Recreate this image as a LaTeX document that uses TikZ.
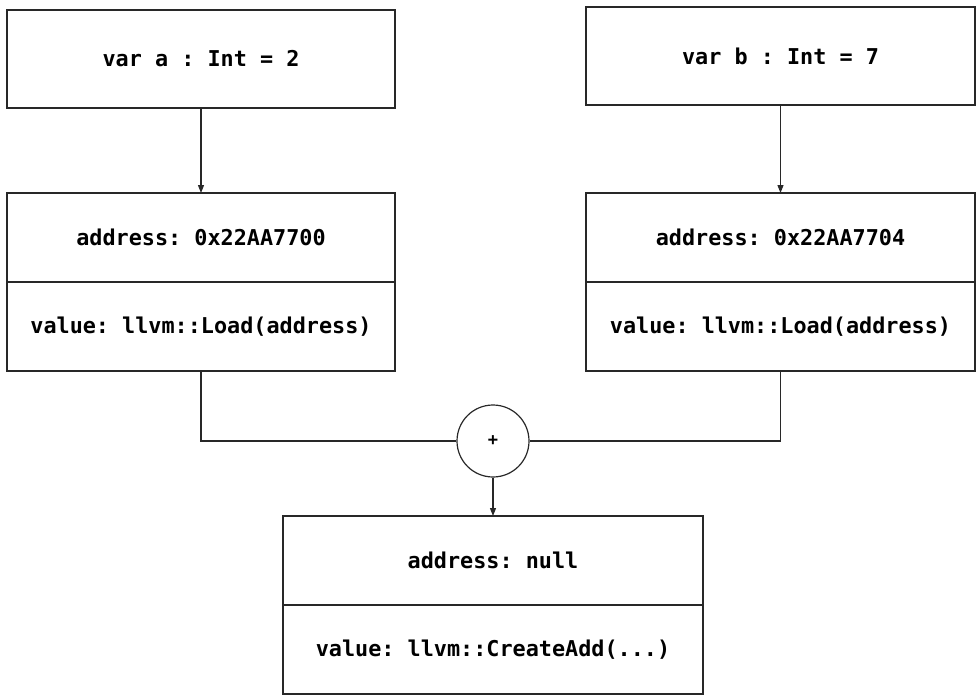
\documentclass[tikz,border=0pt]{standalone}
\usepackage{fontspec}
\setmonofont{DejaVu Sans Mono}
\usepackage{tikz}
\usetikzlibrary{arrows.meta, positioning}
\definecolor{edge}{RGB}{40,40,40}

\begin{document}
\begin{tikzpicture}[x=1pt, y=-1pt,
      box/.style={rectangle, draw=edge, line width=1.2pt, outer sep=0pt, minimum width=388pt, minimum height=89pt, font=\fontsize{21.8}{24}\selectfont\ttfamily\bfseries},
      var/.style={box, minimum height=98pt},
      op/.style={circle, draw=edge, line width=1.2pt, minimum size=72pt, inner sep=0pt, font=\fontsize{17}{18}\selectfont\ttfamily\bfseries},
      arr/.style={-{Triangle[length=8pt, width=6pt]}, line width=1.2pt, edge},
      wire/.style={line width=1.2pt, edge},
    ]
    \useasboundingbox (0,0) rectangle (980,699);
    \node[var] (vara) at (201,59) {var a : Int = 2};
    \node[var, minimum width=389pt] (varb) at (780.5,56) {var b : Int = 7};
    \node[box] (addra) at (201,237.5) {address: 0x22AA7700};
    \node[box, below=0pt of addra] (vala) {value: llvm::Load(address)};
    \node[box, minimum width=389pt] (addrb) at (780.5,237.5) {address: 0x22AA7704};
    \node[box, minimum width=389pt, below=0pt of addrb] (valb) {value: llvm::Load(address)};
    \node[op] (sum) at (493,441) {+};
    \node[box, minimum width=420pt] (addrres) at (493,560.5) {address: null};
    \node[box, minimum width=420pt, below=0pt of addrres] (valres) {value: llvm::CreateAdd(...)};

    \draw[arr] (vara) -- (addra);
    \draw[arr] (varb) -- (addrb);
    \draw[wire] (vala) |- (sum);
    \draw[wire] (valb) |- (sum);
    \draw[arr] (sum) -- (addrres);
  \end{tikzpicture}
\end{document}
